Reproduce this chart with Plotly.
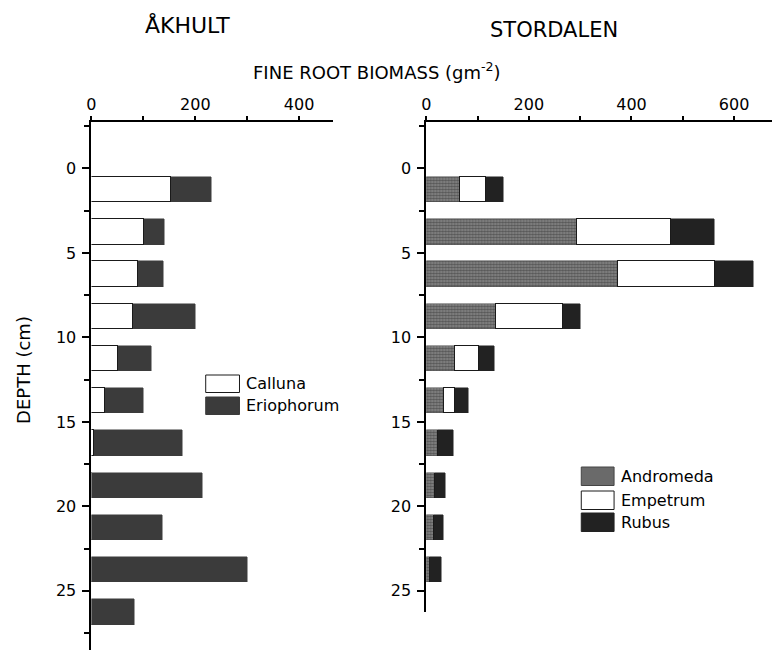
import plotly.graph_objects as go

W, H = 779, 650

# Åkhult: depth-interval midpoints (cm) and fine root biomass (g m-2)
akhult_depth = [1.25, 3.75, 6.25, 8.75, 11.25, 13.75, 16.25, 18.75, 21.25, 23.75, 26.25]
calluna = [154, 102, 91, 80, 52, 27, 5, 2, 0, 0, 0]
eriophorum = [78, 38, 48, 121, 64, 74, 170, 211, 136, 300, 83]

# Stordalen
stordalen_depth = [1.25, 3.75, 6.25, 8.75, 11.25, 13.75, 16.25, 18.75, 21.25, 23.75]
andromeda = [67, 295, 375, 136, 56, 36, 23, 18, 15, 8]
empetrum = [49, 182, 189, 131, 48, 20, 0, 0, 0, 0]
rubus = [34, 84, 73, 34, 29, 25, 29, 19, 18, 22]

akhult_xticks = [0, 200, 400]
akhult_xminor = [100, 300]
stordalen_xticks = [0, 200, 400, 600]
stordalen_xminor = [100, 300, 500]
depth_ticks = [0, 5, 10, 15, 20, 25]

FONT = "DejaVu Sans, Verdana, sans-serif"
WHITE_FILL = dict(color="white", line=dict(color="#1a1a1a", width=1))
ERIO_FILL = dict(color="#3b3b3b", line=dict(color="#3b3b3b", width=0.5))
RUBUS_FILL = dict(color="#222222", line=dict(color="#222222", width=0.5))
ANDRO_FILL = dict(color="#6a6a6a",
                  pattern=dict(shape=".", fgcolor="#222222", bgcolor="#8c8c8c",
                               size=3, solidity=0.6),
                  line=dict(color="#444", width=0.5))


def px(x):
    return x / W


def py(y):
    return 1 - y / H


fig = go.Figure()
bar_w = 1.5

fig.add_bar(x=calluna, y=akhult_depth, orientation="h", name="Calluna",
            marker=WHITE_FILL, width=bar_w, xaxis="x", yaxis="y")
fig.add_bar(x=eriophorum, y=akhult_depth, orientation="h", name="Eriophorum",
            marker=ERIO_FILL, width=bar_w, xaxis="x", yaxis="y")

fig.add_bar(x=andromeda, y=stordalen_depth, orientation="h", name="Andromeda",
            marker=ANDRO_FILL, width=bar_w, xaxis="x2", yaxis="y2")
fig.add_bar(x=empetrum, y=stordalen_depth, orientation="h", name="Empetrum",
            marker=WHITE_FILL, width=bar_w, xaxis="x2", yaxis="y2")
fig.add_bar(x=rubus, y=stordalen_depth, orientation="h", name="Rubus",
            marker=RUBUS_FILL, width=bar_w, xaxis="x2", yaxis="y2")

xcommon = dict(side="top", showline=True, linecolor="black", linewidth=1.5,
               showgrid=False, zeroline=False, ticks="outside", ticklen=4,
               tickwidth=1.5, tickcolor="black",
               tickfont=dict(size=16, color="black", family=FONT))
ycommon = dict(showline=True, linecolor="black", linewidth=2, showgrid=False,
               zeroline=False, ticks="outside", ticklen=7, tickwidth=1.5,
               tickcolor="black", tickvals=depth_ticks, ticklabelstandoff=3,
               tickfont=dict(size=16, color="black", family=FONT),
               minor=dict(tick0=2.5, dtick=5, ticks="outside", ticklen=5,
                          tickcolor="black", showgrid=False))

fig.update_layout(
    width=W, height=H, margin=dict(l=0, r=0, t=0, b=0),
    paper_bgcolor="white", plot_bgcolor="white", showlegend=False,
    barmode="stack", bargap=0,
    font=dict(family=FONT, color="black"),
    xaxis=dict(domain=[px(87), px(330)], range=[0, 465], anchor="y",
               tickvals=akhult_xticks,
               minor=dict(tickvals=akhult_xminor, ticks="outside", ticklen=4,
                          tickcolor="black", showgrid=False),
               **xcommon),
    yaxis=dict(domain=[0, py(122)], range=[28.5, -2.75], anchor="x", **ycommon),
    xaxis2=dict(domain=[px(424), px(772)], range=[0, 674], anchor="y2",
                tickvals=stordalen_xticks,
                minor=dict(tickvals=stordalen_xminor, ticks="outside", ticklen=4,
                           tickcolor="black", showgrid=False),
                **xcommon),
    yaxis2=dict(domain=[py(612), py(122)], range=[26.25, -2.75], anchor="x2", **ycommon),
)

annotations = [
    dict(text="ÅKHULT", x=px(184), y=py(25), font=dict(size=22)),
    dict(text="STORDALEN", x=px(553), y=py(30), font=dict(size=21)),
    dict(text="FINE ROOT BIOMASS (gm<sup>-2</sup>)", x=px(374), y=py(71),
         font=dict(size=18)),
    dict(text="DEPTH (cm)", x=px(18), y=py(370), textangle=-90, font=dict(size=18)),
]
for a in annotations:
    a.update(xref="paper", yref="paper", showarrow=False,
             xanchor="center", yanchor="middle")
fig.update_layout(annotations=annotations)

# Legend keys for each site, drawn as boxes with labels
legend_sets = [
    (["Calluna", "Eriophorum"], [WHITE_FILL, ERIO_FILL], 202, 236, [375, 397], 17.5),
    (["Andromeda", "Empetrum", "Rubus"], [ANDRO_FILL, WHITE_FILL, RUBUS_FILL],
     580, 613, [467, 491, 513], 18.5),
]
for names, fills, x0, x1, tops, hgt in legend_sets:
    for name, fill, top in zip(names, fills, tops):
        fig.add_shape(type="rect", xref="paper", yref="paper",
                      x0=px(x0), x1=px(x1), y0=py(top + hgt), y1=py(top),
                      fillcolor=fill["color"],
                      line=dict(color=fill["line"]["color"], width=1))
        fig.add_annotation(text=name, xref="paper", yref="paper",
                           x=px(x1 + 5), y=py(top + hgt / 2), showarrow=False,
                           xanchor="left", yanchor="middle", font=dict(size=16))

fig.write_html("out.html")
